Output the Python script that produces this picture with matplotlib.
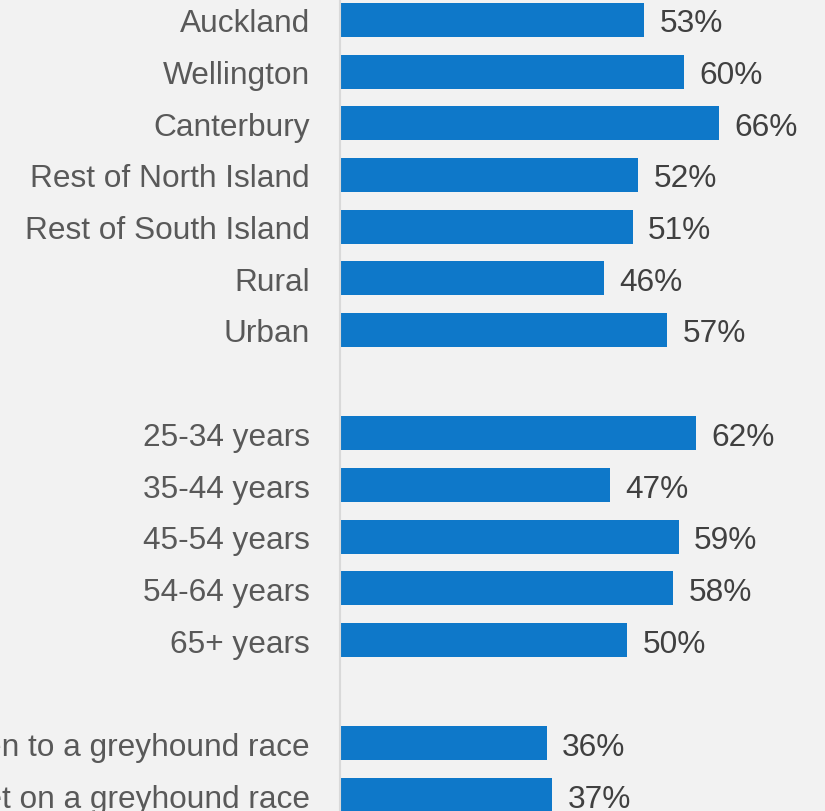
import matplotlib.pyplot as plt

plt.rcParams['font.family'] = ['Liberation Sans', 'DejaVu Sans']

region_labels = ["Auckland", "Wellington", "Canterbury", "Rest of North Island",
                 "Rest of South Island", "Rural", "Urban"]
region_values = [53, 60, 66, 52, 51, 46, 57]
age_labels = ["25-34 years", "35-44 years", "45-54 years", "54-64 years", "65+ years"]
age_values = [62, 47, 59, 58, 50]
race_labels = ["Have been to a greyhound race", "Have bet on a greyhound race"]
race_values = [36, 37]

groups = [(region_labels, region_values), (age_labels, age_values),
          (race_labels, race_values)]

labels, values, positions = [], [], []
row = 0
for g_labels, g_values in groups:
    for lab, val in zip(g_labels, g_values):
        labels.append(lab)
        values.append(val)
        positions.append(row)
        row += 1
    row += 1  # blank row between groups

W, H = 825, 812
bg = '#f2f2f2'
fig = plt.figure(figsize=(W / 100, H / 100), dpi=100, facecolor=bg)
row_px = 51.67
top = -21 / row_px
bottom = 15 + 16 / row_px
ax = fig.add_axes([340 / W, 0, 459 / W, 1])
ax.set_facecolor(bg)

ax.barh(positions, values, height=0.66, color='#0e78c9')
for p, v in zip(positions, values):
    ax.text(v + 2.7, p, f"{v}%", va='center_baseline', ha='left', fontsize=22.8,
            color='#404040')

ax.set_xlim(0, 80)
ax.set_ylim(bottom, top)
ax.set_yticks(positions)
ax.set_yticklabels(labels, fontsize=22.8, color='#595959')
ax.tick_params(axis='y', length=0, pad=21.6)
ax.set_xticks([])
for s in ['top', 'right', 'bottom']:
    ax.spines[s].set_visible(False)
ax.spines['left'].set_color('#d9d9d9')
ax.spines['left'].set_linewidth(1.5)

fig.savefig('out.png', dpi=100, facecolor=bg)
